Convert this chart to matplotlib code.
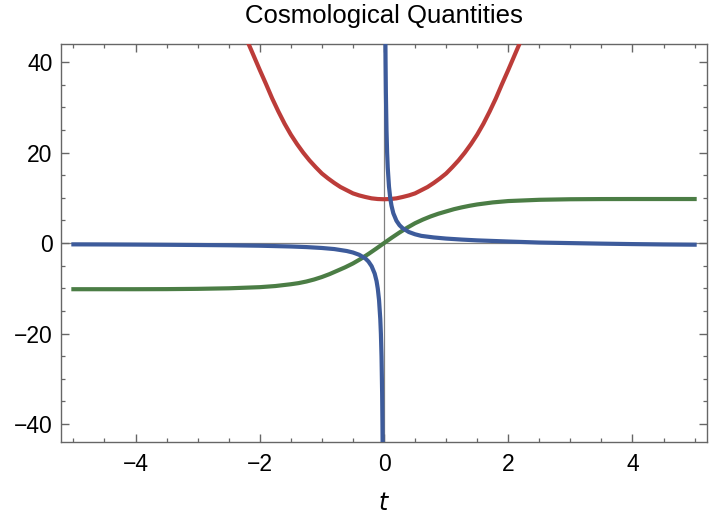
import numpy as np
import matplotlib
matplotlib.use("Agg")
import matplotlib.pyplot as plt
from matplotlib.ticker import MultipleLocator

# Red curve (symmetric bowl)
red_t = [-2.3, -2.2, -2.1, -2.0, -1.9, -1.8, -1.7, -1.6, -1.5, -1.4, -1.3, -1.2, -1.1,
         -1.0, -0.9, -0.8, -0.7, -0.6, -0.5, -0.4, -0.3, -0.2, -0.1, 0.0,
         0.1, 0.2, 0.3, 0.4, 0.5, 0.6, 0.7, 0.8, 0.9, 1.0, 1.1, 1.2, 1.3, 1.4,
         1.5, 1.6, 1.7, 1.8, 1.9, 2.0, 2.1, 2.2, 2.3]
red_y = [49.0, 44.7, 41.5, 38.3, 35.2, 32.0, 29.1, 26.4, 24.0, 21.9, 20.0, 18.3, 16.8,
         15.4, 14.3, 13.3, 12.4, 11.7, 11.0, 10.55, 10.2, 9.9, 9.75, 9.7,
         9.75, 9.9, 10.2, 10.55, 11.0, 11.7, 12.4, 13.3, 14.3, 15.4, 16.8, 18.3, 20.0, 21.9,
         24.0, 26.4, 29.1, 32.0, 35.2, 38.3, 41.5, 44.7, 49.0]

# Green curve (step-like rise)
green_t = [-5.0, -4.5, -4.0, -3.5, -3.0, -2.5, -2.0, -1.75, -1.5, -1.375, -1.25, -1.125,
           -1.0, -0.875, -0.75, -0.625, -0.5, -0.375, -0.25, -0.125, 0.0, 0.125, 0.25,
           0.375, 0.5, 0.625, 0.75, 0.875, 1.0, 1.125, 1.25, 1.375, 1.5, 1.75, 2.0,
           2.5, 3.0, 3.5, 4.0, 4.5, 5.0]
green_y = [-10.2, -10.2, -10.2, -10.18, -10.12, -10.0, -9.75, -9.5, -9.1, -8.85, -8.5, -8.05,
           -7.5, -6.85, -6.1, -5.35, -4.5, -3.5, -2.4, -1.22, 0.0, 1.2, 2.35,
           3.42, 4.4, 5.2, 5.9, 6.5, 7.0, 7.5, 7.9, 8.25, 8.55, 9.0, 9.3,
           9.58, 9.7, 9.74, 9.75, 9.75, 9.75]

# Blue curve, left branch (t < 0)
blue_left_t = [-5.0, -4.5, -4.0, -3.5, -3.0, -2.5, -2.0, -1.5, -1.25, -1.0, -0.8, -0.6,
               -0.5, -0.4, -0.3, -0.25, -0.2, -0.15, -0.12, -0.1, -0.08, -0.06, -0.05,
               -0.04, -0.03, -0.025, -0.022]
blue_left_y = [-0.28, -0.3, -0.33, -0.37, -0.42, -0.48, -0.58, -0.75, -0.88, -1.08, -1.32, -1.75,
               -2.08, -2.58, -3.4, -4.08, -5.1, -6.75, -8.4, -10.1, -12.6, -16.8, -20.1,
               -25.1, -33.4, -40.1, -45.5]

# Blue curve, right branch (t > 0)
blue_right_t = [0.022, 0.025, 0.03, 0.04, 0.05, 0.06, 0.08, 0.1, 0.12, 0.15, 0.2, 0.25,
                0.3, 0.4, 0.5, 0.6, 0.8, 1.0, 1.25, 1.5, 2.0, 2.5, 3.0, 3.5, 4.0, 4.5, 5.0]
blue_right_y = [45.5, 40.0, 33.3, 25.0, 20.0, 16.7, 12.5, 10.0, 8.3, 6.6, 4.95, 3.95,
                3.3, 2.45, 1.95, 1.6, 1.25, 1.0, 0.78, 0.6, 0.35, 0.12, 0.0, -0.12, -0.22, -0.3, -0.35]

plt.rcParams["font.family"] = ["Liberation Sans", "DejaVu Sans"]

fig = plt.figure(figsize=(7.2, 5.2), dpi=100)
ax = fig.add_axes([0.0847, 0.15, 0.8973, 0.765])

# Axes through the origin
ax.axhline(0, color="#808080", lw=0.9, zorder=1)
ax.axvline(0, color="#808080", lw=0.9, zorder=1)

line_w = 3.0
ax.plot(red_t, red_y, color="#BC3C39", lw=line_w, solid_joinstyle="round", zorder=3)
ax.plot(green_t, green_y, color="#4B7D45", lw=line_w, solid_joinstyle="round", zorder=3)
ax.plot(blue_left_t, blue_left_y, color="#3D5B9B", lw=line_w, solid_joinstyle="round", zorder=4)
ax.plot(blue_right_t, blue_right_y, color="#3D5B9B", lw=line_w, solid_joinstyle="round", zorder=4)

ax.set_xlim(-5.2, 5.2)
ax.set_ylim(-44, 44)

ax.xaxis.set_major_locator(MultipleLocator(2))
ax.xaxis.set_minor_locator(MultipleLocator(0.5))
ax.yaxis.set_major_locator(MultipleLocator(20))
ax.yaxis.set_minor_locator(MultipleLocator(5))

frame_color = "#666666"
for spine in ax.spines.values():
    spine.set_color(frame_color)
    spine.set_linewidth(1.0)

ax.tick_params(which="both", direction="in", top=True, right=True, color=frame_color)
ax.tick_params(which="major", length=5.5, width=1.0, labelsize=16.5, pad=6)
ax.tick_params(which="minor", length=3, width=0.9)
ax.tick_params(axis="x", which="major", pad=8)

ax.set_title("Cosmological Quantities", fontsize=18.5, pad=15)
ax.set_xlabel("$t$", fontsize=17, labelpad=12)

plt.savefig("out.png", dpi=100)
